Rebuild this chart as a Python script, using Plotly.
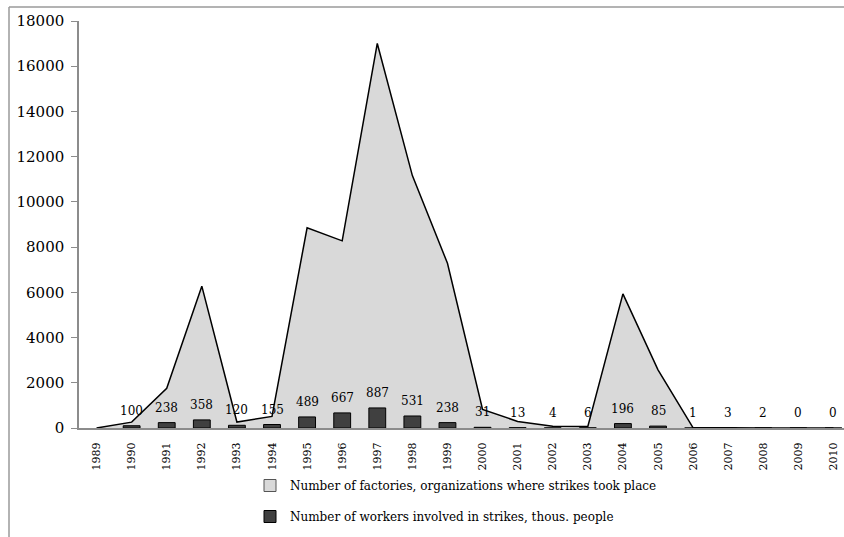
import plotly.graph_objects as go

# Strike statistics by year
years = [str(y) for y in range(1989, 2011)]
factories = [0, 260, 1755, 6273, 264, 514, 8856, 8278, 17007, 11162, 7285,
             817, 291, 80, 67, 5933, 2575, 8, 7, 5, 1, 0]
workers = [None, 100, 238, 358, 120, 155, 489, 667, 887, 531, 238,
           31, 13, 4, 6, 196, 85, 1, 3, 2, 0, 0]

area_name = "Number of factories, organizations where strikes took place"
bar_name = "Number of workers involved in strikes, thous. people"

FONT = "DejaVu Serif"
W, H = 844, 537
M_L, M_R, M_T, M_B = 79, 0, 21, 109
PW = W - M_L - M_R
PH = H - M_T - M_B
X_RANGE = [-0.5, 21.3]
Y_RANGE = [0, 18000]

AREA_FILL = "#d9d9d9"
BAR_FILL = "#404040"


def px_x(px):
    return (px - M_L) / PW


def px_y(py):
    return (H - M_B - py) / PH


fig = go.Figure()

# area series on the base axes
fig.add_trace(go.Scatter(
    x=years, y=factories, name=area_name, mode="lines",
    line=dict(color="#000000", width=1.5),
    fill="tozeroy", fillcolor=AREA_FILL,
    showlegend=False, xaxis="x", yaxis="y",
))

# square legend key for the area series
fig.add_trace(go.Bar(
    x=[None], y=[None], name=area_name, legendgroup="a",
    marker=dict(color=AREA_FILL, line=dict(color="#555555", width=1)),
    xaxis="x2", yaxis="y2",
))

# bars on an overlaid axis pair so they sit on top of the area
fig.add_trace(go.Bar(
    x=years, y=workers, name=bar_name, width=0.48, legendgroup="b",
    marker=dict(color=BAR_FILL, line=dict(color="#000000", width=1)),
    xaxis="x2", yaxis="y2",
))

# value labels above the bars
for i, v in enumerate(workers):
    if v is None:
        continue
    fig.add_annotation(x=i, y=v, xref="x2", yref="y2", text=str(v),
                       showarrow=False, yshift=15,
                       font=dict(family=FONT, size=12, color="#000000"))

# outer frame (top and left edges)
fig.add_shape(type="line", xref="paper", yref="paper", x0=px_x(9), x1=1.2,
              y0=px_y(7), y1=px_y(7), line=dict(color="#9a9a9a", width=1.5))
fig.add_shape(type="line", xref="paper", yref="paper", x0=px_x(9), x1=px_x(9),
              y0=px_y(H), y1=px_y(7), line=dict(color="#9a9a9a", width=1.5))

fig.update_layout(
    width=W, height=H,
    margin=dict(l=M_L, r=M_R, t=M_T, b=M_B, autoexpand=False),
    paper_bgcolor="white", plot_bgcolor="white",
    font=dict(family=FONT, color="#000"),
    legend=dict(x=px_x(250), y=px_y(471), xanchor="left", yanchor="top",
                font=dict(size=12), bgcolor="rgba(0,0,0,0)",
                traceorder="grouped", tracegroupgap=12, itemwidth=30),
    xaxis=dict(type="category", range=X_RANGE, showgrid=False,
               showline=True, linecolor="#8c8c8c", linewidth=2,
               ticks="", tickangle=-90, tickfont=dict(size=11),
               ticklabelstandoff=8),
    yaxis=dict(range=Y_RANGE, dtick=2000, showgrid=False, zeroline=False,
               showline=True, linecolor="#8c8c8c", linewidth=1.5,
               ticks="outside", ticklen=6, tickcolor="#8c8c8c",
               tickfont=dict(size=15), tickformat="d", ticklabelstandoff=4),
    xaxis2=dict(type="category", overlaying="x", range=X_RANGE,
                visible=False, categoryorder="array", categoryarray=years),
    yaxis2=dict(overlaying="y", range=Y_RANGE, visible=False),
)

fig.write_html("out.html")
